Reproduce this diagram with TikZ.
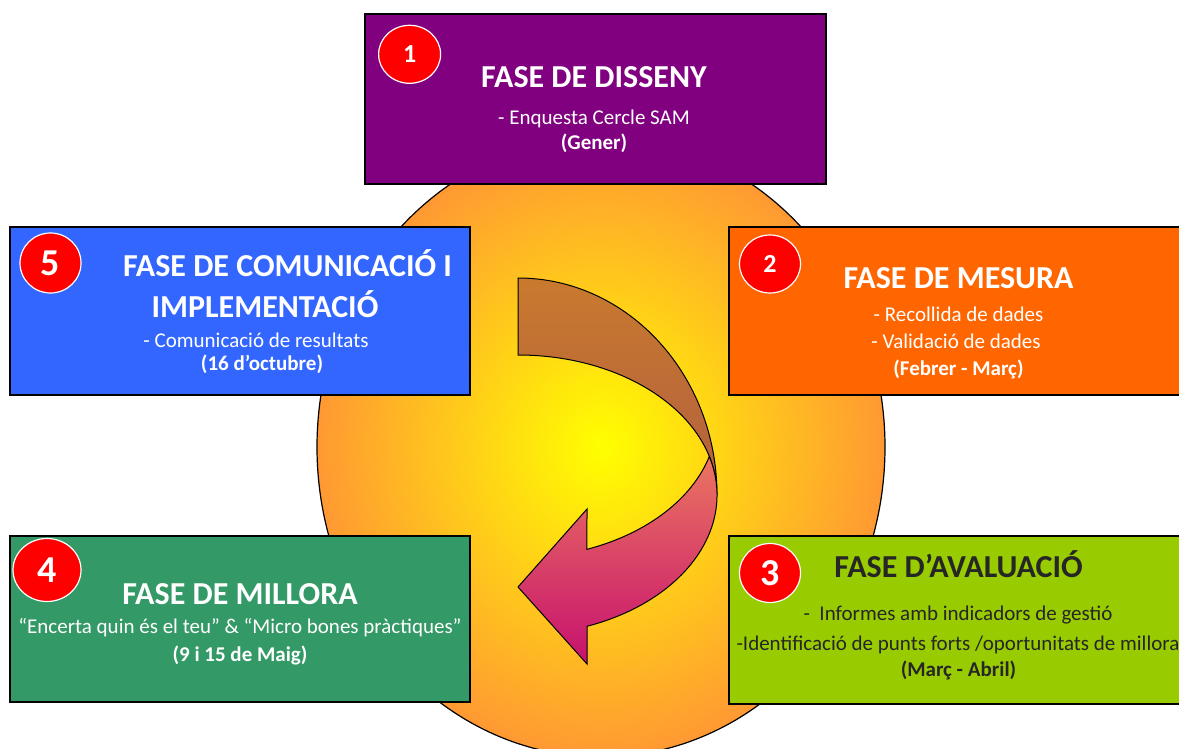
\documentclass[tikz,border=0pt]{standalone}
\usepackage{fontspec}
\setmainfont{Carlito}
\usepackage{xcolor}
\usepackage{tikz}
\usetikzlibrary{positioning,shapes.geometric}

\definecolor{fasepurple}{HTML}{800080}
\definecolor{faseblue}{HTML}{3366FF}
\definecolor{faseorange}{HTML}{FF6600}
\definecolor{fasegreen}{HTML}{339966}
\definecolor{faselime}{HTML}{99CC00}
\definecolor{discorange}{HTML}{FF9933}
\definecolor{arrbrowntop}{HTML}{C97A2E}
\definecolor{arrbrownbot}{HTML}{B35E40}
\definecolor{arrpinktop}{HTML}{EB7660}
\definecolor{arrpinkbot}{HTML}{C7106E}
\definecolor{darktext}{HTML}{262626}

\begin{document}
\begin{tikzpicture}[x=0.5pt,y=-0.5pt,
  phase/.style={draw=black, line width=0.75pt, inner sep=0pt},
  badge/.style={ellipse, fill=red, draw=white, line width=0.6pt, inner sep=0pt, text=white},
  ttl/.style={anchor=base, text=white, font=\bfseries\fontsize{16}{19}\selectfont},
  txt/.style={anchor=base, text=white, font=\fontsize{10.5}{12}\selectfont},
  dte/.style={anchor=base, text=white, font=\bfseries\fontsize{10.5}{12}\selectfont}]
\useasboundingbox (0,0) rectangle (1179,749);
% central disc
\node[ellipse, draw=black, line width=0.6pt, inner color=yellow, outer color=discorange,
  minimum width=284pt, minimum height=310pt] (disc) at (601,447) {};
% curved arrow
\shadedraw[top color=arrbrowntop, bottom color=arrbrownbot, line width=0.5pt]
  (518,278) arc[start angle=-90, end angle=0, x radius=199, y radius=217]
  arc[start angle=0, end angle=-90, x radius=199, y radius=140] -- cycle;
\shadedraw[top color=arrpinktop, bottom color=arrpinkbot, line width=0.5pt]
  (709.3,456.5) arc[start angle=15.96, end angle=69.71, x radius=199, y radius=140]
  -- (587,509) -- (518,587) -- (587,664) -- (587,626.3)
  arc[start angle=69.71, end angle=-15.96, x radius=199, y radius=140] -- cycle;
% phase boxes
\node[phase, fill=fasepurple, minimum width=230.5pt, minimum height=85pt] (disseny) at (595.5,99) {};
\node[phase, fill=faseblue, minimum width=230pt, minimum height=84pt] (comunicacio) at (240,311) {};
\node[phase, fill=faseorange, minimum width=230.5pt, minimum height=84pt] (mesura) at (959.5,311) {};
\node[phase, fill=fasegreen, minimum width=230pt, minimum height=83pt] (millora) at (240,619) {};
\node[phase, fill=faselime, minimum width=230.5pt, minimum height=84pt] (avaluacio) at (959.5,620) {};
% numbers
\node[badge, minimum width=31pt, minimum height=29pt, font=\bfseries\fontsize{13}{13}\selectfont] (n1) at (409.6,54.3) {1};
\node[badge, minimum width=30.5pt, minimum height=29pt, font=\bfseries\fontsize{13}{13}\selectfont] (n2) at (770,264) {2};
\node[badge, minimum width=30.5pt, minimum height=29.5pt, font=\bfseries\fontsize{19}{19}\selectfont] (n3) at (770,573) {3};
\node[badge, minimum width=34pt, minimum height=31.5pt, font=\bfseries\fontsize{19}{19}\selectfont] (n4) at (47,570) {4};
\node[badge, minimum width=30.5pt, minimum height=30pt, font=\bfseries\fontsize{19}{19}\selectfont] (n5) at (50.5,263) {5};
% texts
\node[ttl] (t1) at (594,87.5) {FASE DE DISSENY};
\node[txt] (s1) at (594,124.6) {- Enquesta Cercle SAM};
\node[dte] (d1) at (594,149.8) {(Gener)};
\node[ttl] (t2) at (958.5,288) {FASE DE MESURA};
\node[txt] (s2a) at (958.5,321.7) {- Recollida de dades};
\node[txt] (s2b) at (956,348.3) {- Validació de dades};
\node[dte] (d2) at (958.5,375) {(Febrer - Març)};
\node[ttl, text=darktext] (t3) at (958.5,577) {FASE D’AVALUACIÓ};
\node[txt, text=darktext] (s3a) at (958,620.7) {-\ \ Informes amb indicadors de gestió};
\node[txt, text=darktext] (s3b) at (958,650) {-Identificació de punts forts /oportunitats de millora};
\node[dte, text=darktext] (d3) at (958.5,676.7) {(Març - Abril)};
\node[ttl] (t4) at (240,604) {FASE DE MILLORA};
\node[txt] (s4) at (240,633) {“Encerta quin és el teu” \& “Micro bones pràctiques”};
\node[dte] (d4) at (240,661) {(9 i 15 de Maig)};
\node[ttl] (t5a) at (287.5,277) {FASE DE COMUNICACIÓ I};
\node[ttl] (t5b) at (265,317) {IMPLEMENTACIÓ};
\node[txt] (s5) at (256,347) {- Comunicació de resultats};
\node[dte] (d5) at (262,370) {(16 d’octubre)};
\end{tikzpicture}
\end{document}
